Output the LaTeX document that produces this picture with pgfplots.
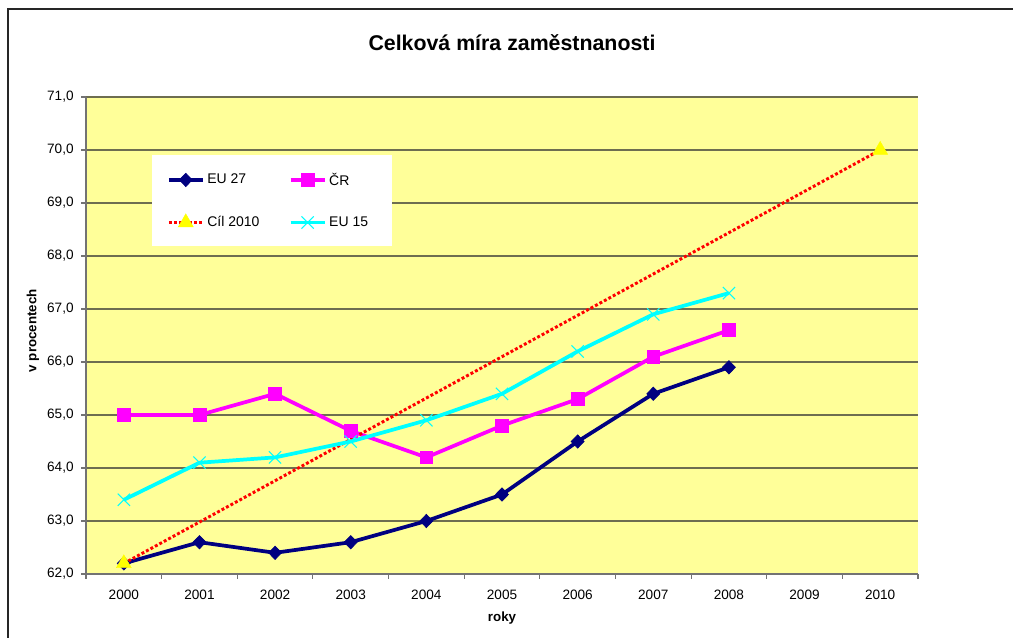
\documentclass[border=0pt]{standalone}
\usepackage{fontspec}
\setmainfont{Liberation Sans}
\usepackage{pgfplots}
\pgfplotsset{compat=1.18}
\definecolor{plotbg}{HTML}{FFFF99}
\definecolor{eunavy}{HTML}{000080}
\definecolor{crmag}{HTML}{FF00FF}
\definecolor{eucyan}{HTML}{00FFFF}
\definecolor{goalred}{HTML}{FF0000}
\definecolor{goalyel}{HTML}{FFFF00}
\definecolor{gridc}{HTML}{6E6E50}
\begin{document}
\begin{tikzpicture}
\draw[line width=1.5pt, black!85] (6pt,-5pt) -- (6pt,471.75pt) -- (770pt,471.75pt);
\node[font=\bfseries\fontsize{16}{19}\selectfont] at (384pt,446.25pt) {Celková míra zaměstnanosti};
\begin{axis}[
  at={(64.5pt,48pt)}, anchor=south west,
  scale only axis, width=624pt, height=357.75pt,
  xmin=-0.5, xmax=10.5, ymin=62, ymax=71,
  axis x line*=bottom, axis y line*=left,
  axis line style={draw=gray!90!black, line width=0.8pt},
  axis background/.style={fill=plotbg},
  ymajorgrids, grid style={draw=gridc, line width=0.9pt},
  ytick={62,63,...,71},
  xtick={0,1,...,10},
  xticklabels={2000,2001,2002,2003,2004,2005,2006,2007,2008,2009,2010},
  minor xtick={-0.5,0.5,...,10.5},
  tick align=outside,
  major tick length=3.75pt,
  minor tick length=3.75pt,
  x tick style={draw=gray!90!black, line width=0.8pt},
  y tick style={draw=gray!90!black, line width=0.8pt},
  xtick style={/pgfplots/major tick length=0pt},
  tick label style={font=\fontsize{10.2}{12}\selectfont},
  yticklabel style={/pgf/number format/.cd, fixed, fixed zerofill, precision=1, use comma, assume math mode=true, /tikz/xshift=-2pt},
  xticklabel style={/pgf/number format/assume math mode=true, yshift=-4.5pt},
  xlabel={roky}, ylabel={v procentech},
  label style={font=\bfseries\fontsize{10}{12}\selectfont},
  xlabel style={at={(axis description cs:0.5,-0.0922)}, anchor=center},
  ylabel style={at={(axis description cs:-0.0637,0.51)}, anchor=center, rotate=0},
  legend columns=2,
  legend style={at={(axis description cs:0.0793,0.878)}, anchor=north west,
    draw=none, fill=white, font=\fontsize{10.5}{12}\selectfont,
    inner xsep=11pt, inner ysep=11pt, row sep=18pt,
    /tikz/every even column/.append style={column sep=20pt}},
  legend cell align=left,
  legend image code/.code={%
    \draw[mark repeat=2,mark phase=2] plot coordinates {(0pt,0pt) (12.75pt,0pt) (25.5pt,0pt)};},
]
\addplot[color=eunavy, line width=2.8pt, mark=diamond*, mark size=5pt,
  mark options={solid, xscale=1.3, line width=0.5pt, fill=eunavy}]
  coordinates {(0,62.2) (1,62.6) (2,62.4) (3,62.6) (4,63.0) (5,63.5) (6,64.5) (7,65.4) (8,65.9)};
\addlegendentry{EU 27}
\addplot[color=crmag, line width=2.8pt, mark=square*, mark size=4.8pt,
  mark options={solid, line width=0.5pt, fill=crmag}]
  coordinates {(0,65.0) (1,65.0) (2,65.4) (3,64.7) (4,64.2) (5,64.8) (6,65.3) (7,66.1) (8,66.6)};
\addlegendentry{ČR}
\addplot[color=goalred, line width=2.2pt, dash pattern=on 2.2pt off 1.6pt, mark=triangle*, mark size=6.5pt,
  mark options={solid, draw=goalyel, fill=goalyel, line width=0.3pt}]
  coordinates {(0,62.2) (10,70.0)};
\addlegendentry{Cíl 2010}
\addplot[color=eucyan, line width=2.8pt, mark=x, mark size=6.5pt,
  mark options={solid, line width=0.8pt}]
  coordinates {(0,63.4) (1,64.1) (2,64.2) (3,64.5) (4,64.9) (5,65.4) (6,66.2) (7,66.9) (8,67.3)};
\addlegendentry{EU 15\rule{5pt}{0pt}}
\end{axis}
\pgfresetboundingbox
\path[use as bounding box] (0,0) rectangle (759.75pt,478.5pt);
\end{tikzpicture}
\end{document}
